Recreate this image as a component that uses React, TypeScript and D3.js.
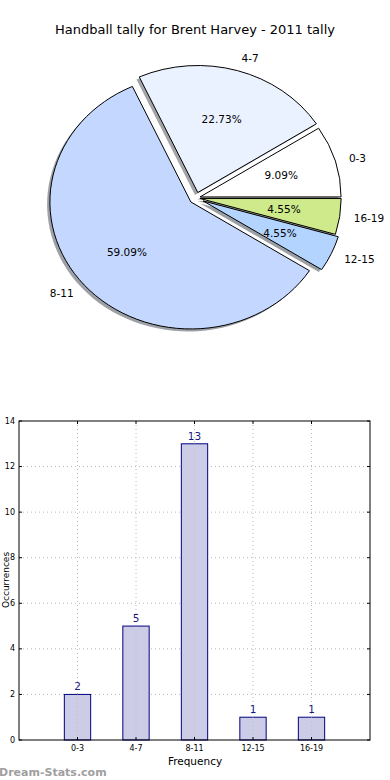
import * as d3 from "d3"

// pie / bar data
const groups = ["0-3", "4-7", "8-11", "12-15", "16-19"]
const tally = [2, 5, 13, 1, 1]
const sliceColors = ["#ffffff", "#ebf2ff", "#c4d8ff", "#b3d4ff", "#cfea8a"]
const explode = [0.03, 0.045, 0.048, 0.055, 0.03]
const yTicks = [0, 2, 4, 6, 8, 10, 12, 14]

const W = 390
const H = 780

export default function App() {
    // pie geometry (slightly stretched horizontally like the source image)
    const cx = 196, cy = 198, rx = 141, ry = 127
    const total = d3.sum(tally)
    const pie = d3.pie<number>().sort(null).startAngle(Math.PI / 2).endAngle(Math.PI / 2 - 2 * Math.PI)
    const arcs = pie(tally)
    const arc = d3.arc<any>().innerRadius(0).outerRadius(1)

    const off = (a: number, k: number) => [k * rx * Math.sin(a), -k * ry * Math.cos(a)]

    // bar chart
    const left = 19, right = 370, top = 421, bottom = 740
    const x = d3.scaleLinear([0, 6], [left, right])
    const y = d3.scaleLinear([0, 14], [bottom, top])
    const bw = x(0.45) - x(0)
    const font = "DejaVu Sans, sans-serif"

    return (
        <svg width={W} height={H} style={{ position: "absolute", left: 0, top: 0 }} fontFamily={font}>
            <rect width={W} height={H} fill="#fff" />
            <text x={195} y={34} textAnchor="middle" fontSize={13}>Handball tally for Brent Harvey - 2011 tally</text>

            {/* shadows */}
            {arcs.map((d, i) => {
                const a = (d.startAngle + d.endAngle) / 2
                const [dx, dy] = off(a, explode[i])
                const c = d3.rgb(sliceColors[i])
                const sc = d3.rgb(c.r * 0.3, c.g * 0.3, c.b * 0.3)
                return (
                    <path key={"s" + i} d={arc(d) as string}
                        transform={`translate(${cx + dx - 2.8},${cy + dy + 2.5}) scale(${rx},${ry})`}
                        fill={sc.toString()} opacity={0.5} />
                )
            })}
            {/* wedges */}
            {arcs.map((d, i) => {
                const a = (d.startAngle + d.endAngle) / 2
                const [dx, dy] = off(a, explode[i])
                return (
                    <path key={"w" + i} d={arc(d) as string}
                        transform={`translate(${cx + dx},${cy + dy}) scale(${rx},${ry})`}
                        fill={sliceColors[i]} stroke="#000" strokeWidth={1} vectorEffect="non-scaling-stroke" />
                )
            })}
            {/* labels */}
            {arcs.map((d, i) => {
                const a = (d.startAngle + d.endAngle) / 2
                const [dx, dy] = off(a, explode[i])
                const [lx, ly] = off(a, 1.1)
                const [px, py] = off(a, 0.6)
                return (
                    <g key={"l" + i} fontSize={10.5}>
                        <text x={cx + dx + lx} y={cy + dy + ly} dominantBaseline="central"
                            textAnchor={lx > 0 ? "start" : "end"}>{groups[i]}</text>
                        <text x={cx + dx + px} y={cy + dy + py} dominantBaseline="central"
                            textAnchor="middle">{(tally[i] / total * 100).toFixed(2)}%</text>
                    </g>
                )
            })}

            {/* bar chart grid */}
            <g stroke="#b8b8b8" strokeWidth={1} strokeDasharray="1,3">
                {yTicks.slice(1, -1).map(t => (
                    <line key={"gy" + t} x1={left} x2={right} y1={y(t)} y2={y(t)} />
                ))}
                {groups.map((g, i) => (
                    <line key={"gx" + g} x1={x(i + 1)} x2={x(i + 1)} y1={top} y2={bottom} />
                ))}
            </g>
            {groups.map((g, i) => (
                <g key={"b" + g}>
                    <rect x={x(i + 1) - bw / 2} y={y(tally[i])} width={bw} height={bottom - y(tally[i])}
                        fill="#ccccE6" stroke="#000080" strokeWidth={1} />
                    <text x={x(i + 1)} y={y(tally[i]) - 4} textAnchor="middle" fontSize={10.5} fill="#1a1a80">{tally[i]}</text>
                </g>
            ))}
            {/* grid shows faintly through the bars, like the source */}
            <g stroke="#b8b8b8" strokeWidth={1} strokeDasharray="1,3" opacity={0.6}>
                {groups.map((g, i) => (
                    <line key={"gx2" + g} x1={x(i + 1)} x2={x(i + 1)} y1={y(tally[i])} y2={bottom} />
                ))}
            </g>
            <rect x={left} y={top} width={right - left} height={bottom - top} fill="none" stroke="#000" strokeWidth={1} />
            {/* ticks */}
            <g stroke="#000" strokeWidth={1}>
                {yTicks.map(t => (
                    <g key={"ty" + t}>
                        <line x1={left} x2={left + 3} y1={y(t)} y2={y(t)} />
                        <line x1={right} x2={right - 3} y1={y(t)} y2={y(t)} />
                    </g>
                ))}
                {groups.map((g, i) => (
                    <g key={"tx" + g}>
                        <line x1={x(i + 1)} x2={x(i + 1)} y1={bottom} y2={bottom - 3} />
                        <line x1={x(i + 1)} x2={x(i + 1)} y1={top} y2={top + 3} />
                    </g>
                ))}
            </g>
            {yTicks.map(t => (
                <text key={"yl" + t} x={left - 4} y={y(t)} textAnchor="end" dominantBaseline="central" fontSize={8}>{t}</text>
            ))}
            {groups.map((g, i) => (
                <text key={"xl" + g} x={x(i + 1)} y={748} textAnchor="middle" dominantBaseline="central" fontSize={8}>{g}</text>
            ))}
            <text x={195} y={761} textAnchor="middle" dominantBaseline="central" fontSize={10.5}>Frequency</text>
            <text transform={`translate(8.5,580) rotate(-90)`} textAnchor="middle" fontSize={9}>Occurrences</text>

            <text x={-1} y={776} fontSize={11} fontWeight="bold" fill="#a0a0a0">Dream-Stats.com</text>
        </svg>
    )
}
